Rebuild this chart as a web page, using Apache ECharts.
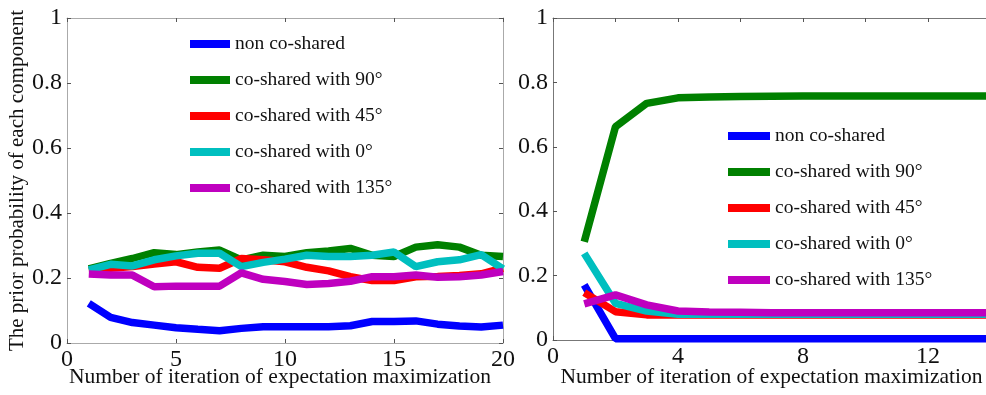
<!DOCTYPE html>
<html>
<head>
<meta charset="utf-8">
<title>prior probability</title>
<script src="https://cdn.jsdelivr.net/npm/echarts@6/dist/echarts.min.js"></script>
<style>
	html, body { margin: 0; padding: 0; background: #fff; }
	#chart { width: 986px; height: 395px; }
</style>
</head>
<body>
<div id="chart"></div>
<script>
	// names of the five components
	var names = ['non co-shared', 'co-shared with 90°', 'co-shared with 45°', 'co-shared with 0°', 'co-shared with 135°']
	var colors = ['#0000ff', '#008000', '#ff0000', '#00bfbf', '#bf00bf']

	// left plot, iterations 1..20
	var leftIter = [1, 2, 3, 4, 5, 6, 7, 8, 9, 10, 11, 12, 13, 14, 15, 16, 17, 18, 19, 20]
	var leftNon = [0.122, 0.079, 0.063, 0.055, 0.047, 0.042, 0.038, 0.045, 0.050, 0.050, 0.050, 0.050, 0.053, 0.066, 0.066, 0.068, 0.058, 0.052, 0.049, 0.055]
	var left90 = [0.228, 0.245, 0.260, 0.278, 0.272, 0.280, 0.286, 0.256, 0.270, 0.266, 0.278, 0.283, 0.291, 0.270, 0.266, 0.295, 0.302, 0.295, 0.270, 0.266]
	var left45 = [0.225, 0.230, 0.235, 0.243, 0.250, 0.233, 0.230, 0.260, 0.256, 0.250, 0.233, 0.222, 0.204, 0.192, 0.192, 0.204, 0.205, 0.208, 0.213, 0.230]
	var left0 = [0.225, 0.242, 0.237, 0.256, 0.268, 0.276, 0.276, 0.235, 0.248, 0.258, 0.270, 0.266, 0.266, 0.270, 0.280, 0.235, 0.250, 0.256, 0.272, 0.228]
	var left135 = [0.212, 0.209, 0.209, 0.173, 0.175, 0.175, 0.175, 0.216, 0.196, 0.189, 0.180, 0.183, 0.190, 0.204, 0.204, 0.209, 0.202, 0.204, 0.209, 0.220]

	// right plot, iterations 1..15 (picture is cut at ~14)
	var rightIter = [1, 2, 3, 4, 5, 6, 7, 8, 9, 10, 11, 12, 13, 14, 15]
	var rightNon = [0.171, 0.004, 0.004, 0.004, 0.004, 0.004, 0.004, 0.004, 0.004, 0.004, 0.004, 0.004, 0.004, 0.004, 0.004]
	var right90 = [0.305, 0.662, 0.735, 0.752, 0.755, 0.756, 0.757, 0.758, 0.758, 0.758, 0.758, 0.758, 0.758, 0.758, 0.758]
	var right45 = [0.147, 0.088, 0.078, 0.078, 0.078, 0.078, 0.078, 0.078, 0.078, 0.078, 0.078, 0.078, 0.078, 0.078, 0.078]
	var right0 = [0.269, 0.114, 0.090, 0.080, 0.080, 0.080, 0.080, 0.080, 0.080, 0.080, 0.080, 0.080, 0.080, 0.080, 0.080]
	var right135 = [0.112, 0.140, 0.109, 0.090, 0.087, 0.086, 0.085, 0.085, 0.085, 0.085, 0.085, 0.085, 0.085, 0.085, 0.085]

	var yTicks = [0, 0.2, 0.4, 0.6, 0.8, 1]

	var leftData = [leftNon, left90, left45, left0, left135]
	var rightData = [rightNon, right90, right45, right0, right135]

	function pairs(xs, ys) {
		return xs.map(function (x, i) { return [x, ys[i]] })
	}

	var font = 'Liberation Serif'
	var xTitle = 'Number of iteration of expectation maximization'

	var chart = echarts.init(document.getElementById('chart'))

	function xAx(grid, max, interval, pos, show, color, fmt, gap, shift) {
		return {
			type: 'value',
			gridIndex: grid,
			position: pos,
			min: 0,
			max: max,
			interval: interval,
			axisLine: { show: true, onZero: false, lineStyle: { color: color, width: 1 } },
			axisTick: { show: true, inside: true, length: 4, lineStyle: { color: '#555' } },
			splitLine: { show: false },
			axisLabel: {
				show: show,
				color: '#111',
				fontFamily: font,
				fontSize: 24,
				margin: 5,
				showMaxLabel: true,
				formatter: fmt
			},
			name: show ? xTitle : '',
			nameLocation: 'middle',
			nameGap: gap || 24,
			nameMoveOverlap: false,
			nameTextStyle: { color: '#111', fontFamily: font, fontSize: 21.5, padding: [0, shift || 0, 0, 0] }
		}
	}

	function yAx(grid, pos, show, color, title) {
		return {
			type: 'value',
			gridIndex: grid,
			position: pos,
			min: 0,
			max: 1,
			interval: 0.2,
			axisLine: { show: true, onZero: false, lineStyle: { color: color, width: 1 } },
			axisTick: { show: true, inside: true, length: 4, lineStyle: { color: '#555' } },
			splitLine: { show: false },
			axisLabel: {
				show: show,
				color: '#111',
				fontFamily: font,
				fontSize: 24,
				margin: 5,
				formatter: function (v) {
					return yTicks.indexOf(Math.round(v * 10) / 10) >= 0 ? String(Math.round(v * 10) / 10) : ''
				}
			},
			name: title || '',
			nameLocation: 'middle',
			nameGap: 39,
			nameMoveOverlap: false,
			nameTextStyle: { color: '#111', fontFamily: font, fontSize: 21 }
		}
	}

	var series = []
	names.forEach(function (n, k) {
		series.push({
			name: n,
			type: 'line',
			xAxisIndex: 0,
			yAxisIndex: 0,
			data: pairs(leftIter, leftData[k]),
			showSymbol: false,
			symbol: 'none',
			lineStyle: { color: colors[k], width: 7.5 },
			itemStyle: { color: colors[k] },
			z: 2 + k,
			animation: false
		})
		series.push({
			name: n,
			type: 'line',
			xAxisIndex: 2,
			yAxisIndex: 2,
			data: pairs(rightIter, rightData[k]),
			showSymbol: false,
			symbol: 'none',
			lineStyle: { color: colors[k], width: 7.5 },
			itemStyle: { color: colors[k] },
			z: 2 + k,
			animation: false
		})
	})

	function legendAt(left, top, w) {
		return {
			orient: 'vertical',
			left: left,
			top: top,
			icon: 'rect',
			itemWidth: w,
			itemHeight: 8,
			itemGap: 16,
			data: names,
			textStyle: { color: '#111', fontFamily: font, fontSize: 19.5, lineHeight: 20, height: 20 }
		}
	}

	var option = {
		animation: false,
		backgroundColor: '#fff',
		grid: [
			{ left: 67, top: 18, width: 436, height: 325, outerBoundsMode: 'none', containLabel: false },
			{ left: 553, top: 18, width: 453, height: 322, outerBoundsMode: 'none', containLabel: false }
		],
		legend: [legendAt(185, 29, 40), legendAt(723, 121, 42)],
		xAxis: [
			xAx(0, 20, 5, 'bottom', true, '#aaa', null, 23, 10),
			xAx(0, 20, 5, 'top', false, '#aaa'),
			xAx(1, 14.5, 2, 'bottom', true, '#777', function (v) { return v % 4 === 0 ? String(v) : '' }, 26, 16),
			xAx(1, 14.5, 2, 'top', false, '#777')
		],
		yAxis: [
			yAx(0, 'left', true, '#aaa', 'The prior probability of each component'),
			yAx(0, 'right', false, '#aaa'),
			yAx(1, 'left', true, '#777')
		],
		series: series
	}
	chart.setOption(option)
</script>
</body>
</html>
